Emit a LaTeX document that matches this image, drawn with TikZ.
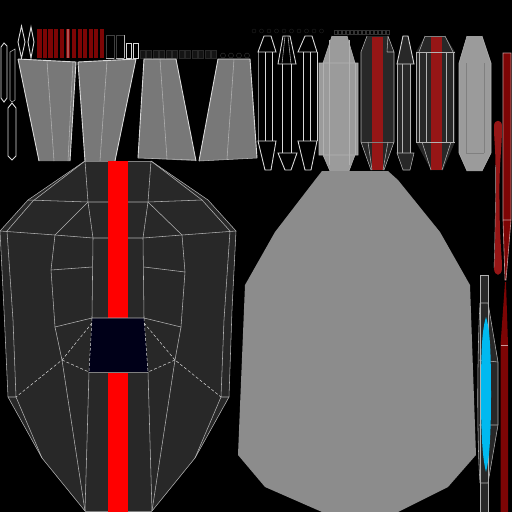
\documentclass[tikz,border=0pt]{standalone}
\usepackage{tikz}
\definecolor{headGray}{RGB}{40,40,40}
\definecolor{hullGray}{RGB}{140,140,140}
\definecolor{panelGray}{RGB}{120,120,120}
\definecolor{lightGray}{RGB}{155,155,155}
\definecolor{darkRed}{RGB}{125,5,5}
\definecolor{stripeRed}{RGB}{150,22,22}
\definecolor{windowBlue}{RGB}{0,0,24}
\definecolor{skyBlue}{RGB}{0,185,240}
\tikzset{
  wire/.style={draw=white!85!black,line width=0.9pt},
  thinwire/.style={draw=white!70!black,line width=0.55pt},
  seam/.style={draw=white!85!black,line width=0.5pt,densely dashed}
}
\begin{document}
\begin{tikzpicture}[x=1pt,y=-1pt]
    \fill[black] (0,0) rectangle (512,512);
    \useasboundingbox (0,0) rectangle (512,512);

    % top left slivers
    \draw[wire] (1,47) -- (4,43) -- (7,46) -- (7,98) -- (4,102) -- (1,98) -- cycle;
    \draw[thinwire] (10,52) -- (15,49) -- (15,100) -- (12,102) -- (10,100) -- cycle;
    \draw[wire] (8,108) -- (12,103) -- (16,108) -- (16,156) -- (12,160) -- (8,156) -- cycle;
    \draw[wire] (21.5,26) -- (25,42) -- (21.5,58) -- (18,42) -- cycle;
    \draw[wire] (31,27) -- (34,42) -- (31,58) -- (28,42) -- cycle;

    % small red strips
    \foreach \xa/\xb in {37/42,43/47,48/53,54/58,60/64,66/70,72/76,78/82,83/87,89/93,94/98,100/104}
      \fill[darkRed] (\xa,29) rectangle (\xb,58);
    \fill[stripeRed!75!white] (66.5,29) rectangle (68.5,58);
    \draw[thinwire,draw=white!25!black] (106,35) rectangle (114,58);
    \draw[thinwire,draw=white!25!black] (116,35) rectangle (124,58);
    \draw[thinwire] (106,58) -- (114,58) (116,58) -- (124,58) (124,35) -- (124,58);
    \draw[wire] (126,43) rectangle (131,58);
    \draw[wire] (133,43) rectangle (138,58);
    \foreach \xa in {140,146.5,153,159.5,166,172.5,179,185.5,192,198.5,205,211.5}
      \draw[draw=white!16!black,fill=white!8!black,line width=0.4pt] (\xa,50) rectangle ++(5,8);
    \foreach \xa in {223,231,239,247}
      \draw[draw=white!22!black,line width=0.4pt] (\xa,55.5) circle (2.5);

    % gray panels
    \fill[panelGray] (18,59) -- (76,62) -- (70,161) -- (39,161) -- cycle;
    \fill[panelGray] (78,62) -- (136,59) -- (115,161) -- (85,161) -- cycle;
    \fill[panelGray] (144,59) -- (176,59) -- (196,161) -- (138,158) -- cycle;
    \fill[panelGray] (218,59) -- (250,59) -- (257,158) -- (199,161) -- cycle;
    \draw[wire] (18,59) -- (39,161) (18,59) -- (76,62) -- (70,161);
    \draw[thinwire] (47,61) -- (54,161) (73,62) -- (68,161);
    \draw[wire] (78,62) -- (85,161) (78,62) -- (136,59) -- (115,161);
    \draw[thinwire] (107,61) -- (100,161);
    \draw[wire] (138,158) -- (144,59) -- (176,59) -- (196,161);
    \draw[thinwire] (138,158) -- (196,160) (160,59) -- (167,159);
    \draw[wire] (199,161) -- (218,59) -- (250,59) -- (257,158);
    \draw[thinwire] (199,161) -- (257,158) (234,59) -- (227,159);

    % dim marks above the capsules
    \foreach \n in {0,...,9}
      \draw[draw=white!13!black,line width=0.4pt] (254+7.5*\n,31) circle (2);
    \foreach \n in {0,...,13}
      \draw[draw=white!20!black,line width=0.4pt] (334+4*\n,30.5) rectangle ++(3,4);

    % capsules
    \draw[thinwire,draw=gray] (258,52) -- (258,141);
    \draw[wire] (264,36) -- (271,36) -- (276,52) -- (258,52) -- cycle;
    \draw[wire] (265,52) -- (265,141) (272,52) -- (272,141);
    \draw[wire] (258,141) -- (276,141) -- (271,170) -- (265,170) -- cycle;
    \draw[wire] (283,36) -- (290,36) -- (296,64) -- (278,64) -- cycle;
    \draw[thinwire] (285,36) -- (282,64) (288,36) -- (291,64);
    \draw[wire] (282,64) -- (282,153) (291,64) -- (291,153);
    \draw[wire] (278,153) -- (297,153) -- (291,170) -- (285,170) -- cycle;
    \draw[wire] (305,36) -- (312,36) -- (317,52) -- (298,52) -- cycle;
    \draw[wire] (303,52) -- (303,141) (310,52) -- (310,141) (317,52) -- (317,141);
    \draw[wire] (298,141) -- (317,141) -- (311,170) -- (305,170) -- cycle;

    % light capsule
    \fill[lightGray] (332,36) -- (347,36) -- (355,63) -- (358,63) -- (358,155) -- (355,155) -- (349,171) -- (330,171) -- (323,155) -- (319,155) -- (319,63) -- (323,63) -- cycle;
    \draw[thinwire] (332,36) -- (323,63) (347,36) -- (355,63) (319,63) rectangle (358,155);
    \draw[thinwire] (323,63) -- (323,155) (355,63) -- (355,155) (329,40) -- (329,165) (349,40) -- (349,165);
    \draw[thinwire] (323,155) -- (330,171) (355,155) -- (349,171);

    % dark capsule with red stripe
    \fill[headGray] (367,36) -- (388,36) -- (394,52) -- (394,142) -- (384,170) -- (371,170) -- (361,142) -- (361,52) -- cycle;
    \fill[stripeRed] (372,37) rectangle (383,170);
    \draw[thinwire,draw=gray] (361,142) -- (394,142);
    \draw[thinwire] (361,142) -- (361,52) -- (367,36) (394,142) -- (394,52) -- (388,36) (387,52) -- (394,52) (388,36) -- (387,52);
    \draw[thinwire] (361,142) -- (371,170) (394,142) -- (384,170) (368,142) -- (372,170) (388,142) -- (383,170);

    % narrow dark capsule
    \fill[headGray] (403,36) -- (408,36) -- (414,64) -- (411,64) -- (411,153) -- (414,153) -- (410,170) -- (403,170) -- (397,153) -- (397,64) -- cycle;
    \draw[wire] (403,36) -- (408,36) -- (414,64) -- (397,64) -- cycle;
    \draw[thinwire] (397,64) -- (397,153) (402,64) -- (402,153) (410,64) -- (410,153);
    \draw[thinwire] (397,153) -- (414,153) -- (410,170) -- (403,170) -- cycle;

    % wide dark capsule with red stripe
    \fill[headGray] (425,36) -- (445,36) -- (455,52) -- (455,142) -- (443,170) -- (431,170) -- (416,142) -- (416,52) -- cycle;
    \fill[stripeRed] (431,37) rectangle (442,170);
    \draw[thinwire] (416,52) -- (455,52) (416,52) -- (416,142) (419,52) -- (419,142) (426,52) -- (426,142) (446,52) -- (446,142) (453,52) -- (453,142) (416,142) -- (455,142);
    \draw[thinwire,draw=gray] (425,36) -- (445,36);
    \draw[thinwire] (425,36) -- (419,52) (445,36) -- (453,52);
    \draw[thinwire] (422,142) -- (431,170) (451,142) -- (442,170);

    % second light capsule
    \fill[lightGray] (467,36) -- (482,36) -- (491,63) -- (491,153) -- (482,171) -- (467,171) -- (459,153) -- (459,63) -- cycle;
    \draw[thinwire] (467,36) -- (459,63) -- (459,153) -- (467,171) (482,36) -- (491,63) -- (491,153) -- (482,171);
    \draw[thinwire,draw=gray] (466,63) -- (466,153) -- (484,153) (484,63) -- (484,153);

    % big gray hull
    \fill[hullGray] (322,171) -- (388,171) -- (398,180) -- (440,232) -- (470,285) -- (476,455) -- (448,487) -- (398,512) -- (322,512) -- (265,487) -- (238,455) -- (245,285) -- (275,232) -- (315,180) -- cycle;

    % head
    \fill[headGray] (85,161) -- (151,161) -- (208,200) -- (236,231) -- (232,310) -- (229,397) -- (195,458) -- (152,511) -- (85,511) -- (42,458) -- (8,397) -- (4,310) -- (0,231) -- (28,200) -- cycle;
    \fill[windowBlue] (92,318) -- (144,318) -- (148,372) -- (89,372) -- cycle;
    \fill[red] (108,161) rectangle (128,318);
    \fill[red] (108,373) rectangle (128,512);
    \draw[thinwire] (85,161) -- (28,200) -- (0,231) -- (4,310) -- (8,397) -- (42,458) -- (85,511) (151,161) -- (208,200) -- (236,231) -- (232,310) -- (229,397) -- (195,458) -- (152,511);
    \draw[wire,draw=gray] (85,161) -- (108,161) (128,161) -- (151,161) (85,511) -- (108,511) (128,511) -- (152,511) (89,372) -- (148,372);
    \draw[thinwire] (85,161) -- (88,202) -- (93,238) -- (92,318) -- (144,318) -- (143,238) -- (148,202) -- (151,161);
    \draw[thinwire] (28,200) -- (88,202) -- (108,202) (128,202) -- (148,202) -- (202,200);
    \draw[thinwire] (0,231) -- (55,235) -- (93,238) -- (108,238) (128,238) -- (143,238) -- (182,235) -- (236,231);
    \draw[thinwire] (88,202) -- (55,235) -- (51,270) -- (55,327) -- (92,318) (148,202) -- (182,235) -- (185,272) -- (181,327) -- (144,318);
    \draw[thinwire] (51,270) -- (92,267) (144,267) -- (185,272);
    \draw[thinwire] (55,327) -- (62,360) -- (85,511) (181,327) -- (175,360) -- (152,511);
    \draw[thinwire] (89,372) -- (85,511) (148,372) -- (152,511);
    \draw[thinwire] (85,161) -- (33,201) -- (7,231) -- (13,320) -- (16,397) -- (8,397) (16,397) -- (42,458);
    \draw[thinwire] (151,161) -- (202,200) -- (230,231) -- (224,320) -- (221,397) -- (229,397) (221,397) -- (195,458);
    \draw[seam] (92,318) -- (89,372) (144,318) -- (148,372);
    \draw[seam] (92,323) -- (62,360) -- (16,397) (144,323) -- (175,360) -- (221,397);
    \draw[seam] (62,360) -- (89,372) (175,360) -- (148,372);

    % right strips
    \fill[darkRed] (503,53) -- (511,53) -- (511,220) -- (506,280) -- (505,280) -- (503,220) -- cycle;
    \draw[white!60!darkRed,line width=0.6pt] (503,53) -- (511,53) -- (511,220) -- (506,280) -- (505,280) -- (503,220) -- cycle (503,220) -- (511,220);
    \fill[stripeRed] (494,126) .. controls (494,119) and (502,119) .. (502,126) .. controls (502,150) and (499,160) .. (499.5,200) .. controls (499.5,240) and (502,255) .. (502,268) .. controls (502,277) and (494,277) .. (494,268) .. controls (495,240) and (496,180) .. (495.5,165) .. controls (495.5,150) and (494,140) .. (494,126) -- cycle;
    \draw[white!65!black,line width=0.4pt] (494,268) .. controls (495,240) and (496,180) .. (495.5,165);

    \fill[headGray] (480,275) -- (488,275) -- (488,303) -- (498,362) -- (498,425) -- (488,483) -- (488,512) -- (480,512) -- (480,483) .. controls (477,440) and (477,360) .. (480,303) -- cycle;
    \draw[thinwire] (480,512) -- (480,275) -- (488,275) -- (488,512);
    \draw[thinwire] (488,303) -- (498,362) -- (498,425) -- (488,483) (480,303) .. controls (477,360) and (477,440) .. (480,483);
    \draw[thinwire] (479,360) -- (498,362) (479,425) -- (498,425) (480,303) -- (488,303) (480,483) -- (488,483);
    \fill[skyBlue] (486,317) .. controls (490,330) and (491,350) .. (491,395) .. controls (491,440) and (489,460) .. (486,472) .. controls (483,460) and (481,440) .. (481,395) .. controls (481,350) and (482,330) .. (486,317) -- cycle;
    \fill[darkRed] (505,282) -- (506,282) -- (508,345) -- (508,512) -- (500.5,512) -- (500.5,345) -- cycle;
    \draw[white!60!darkRed,line width=0.4pt] (500.5,345) -- (508,345);
\end{tikzpicture}
\end{document}
